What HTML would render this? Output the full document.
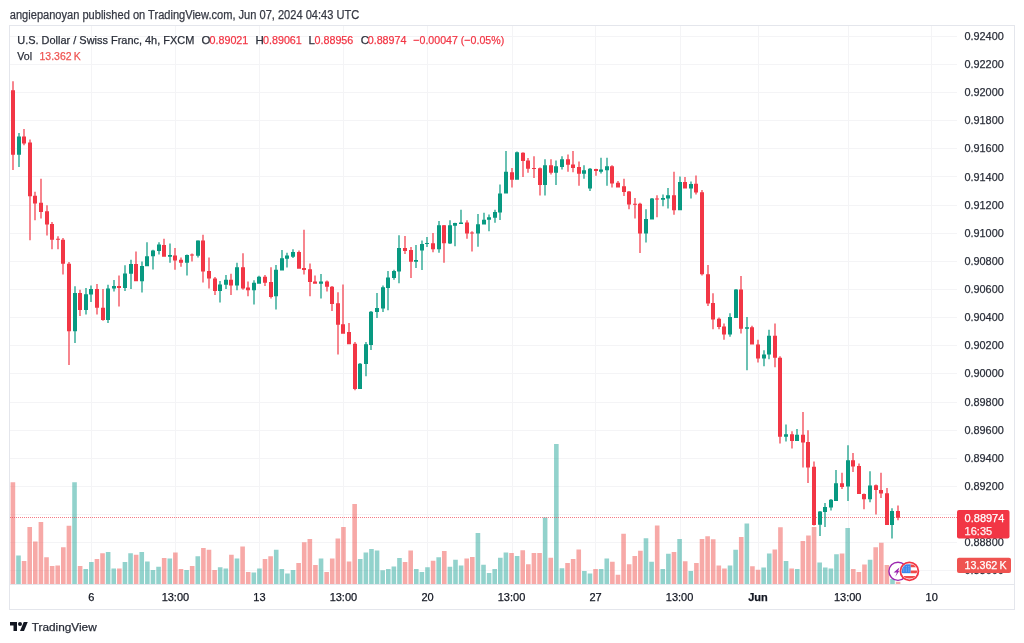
<!DOCTYPE html><html><head><meta charset="utf-8"><style>html,body{margin:0;padding:0;background:#fff;width:1024px;height:643px;overflow:hidden}svg{display:block;will-change:transform}text{font-family:"Liberation Sans",sans-serif}</style></head><body>
<svg width="1024" height="643" viewBox="0 0 1024 643">
<rect width="1024" height="643" fill="#fff"/>
<text x="9.8" y="18.9" font-size="12" fill="#363944" stroke="#363944" stroke-width="0.25" textLength="349.4" lengthAdjust="spacingAndGlyphs">angiepanoyan published on TradingView.com, Jun 07, 2024 04:43 UTC</text>
<path d="M10 36.5H957M10 64.5H957M10 92.5H957M10 120.5H957M10 148.5H957M10 176.5H957M10 205.5H957M10 233.5H957M10 261.5H957M10 289.5H957M10 317.5H957M10 345.5H957M10 373.5H957M10 402.5H957M10 430.5H957M10 458.5H957M10 486.5H957M10 514.5H957M10 542.5H957M10 570.5H957M91.5 26V584M175.5 26V584M259.5 26V584M343.5 26V584M427.5 26V584M512.5 26V584M595.5 26V584M680.5 26V584M758.5 26V584M848.5 26V584M931.5 26V584" stroke="#F4F4F6" stroke-width="1" fill="none"/>
<rect x="9.5" y="25.5" width="1005" height="584" fill="none" stroke="#E4E6EC" stroke-width="1"/>
<path d="M10 584.5H1014" stroke="#E4E6EC" stroke-width="1"/>
<path d="M10.60 482.2h4.6V584h-4.6zM21.80 560.9h4.6V584h-4.6zM27.41 527.0h4.6V584h-4.6zM33.01 541.5h4.6V584h-4.6zM38.61 522.0h4.6V584h-4.6zM44.22 557.2h4.6V584h-4.6zM49.82 566.1h4.6V584h-4.6zM55.42 565.4h4.6V584h-4.6zM61.02 547.3h4.6V584h-4.6zM66.62 525.8h4.6V584h-4.6zM77.83 566.1h4.6V584h-4.6zM94.64 559.1h4.6V584h-4.6zM100.24 553.2h4.6V584h-4.6zM117.05 568.4h4.6V584h-4.6zM133.85 554.8h4.6V584h-4.6zM161.87 557.9h4.6V584h-4.6zM173.07 552.5h4.6V584h-4.6zM178.67 568.9h4.6V584h-4.6zM189.88 566.1h4.6V584h-4.6zM201.09 548.0h4.6V584h-4.6zM206.69 549.7h4.6V584h-4.6zM212.29 570.1h4.6V584h-4.6zM229.10 554.8h4.6V584h-4.6zM240.30 546.6h4.6V584h-4.6zM245.91 572.0h4.6V584h-4.6zM262.71 559.0h4.6V584h-4.6zM268.31 556.2h4.6V584h-4.6zM296.33 563.0h4.6V584h-4.6zM301.93 542.2h4.6V584h-4.6zM307.53 539.1h4.6V584h-4.6zM313.13 564.9h4.6V584h-4.6zM324.34 572.0h4.6V584h-4.6zM329.94 558.6h4.6V584h-4.6zM335.54 538.4h4.6V584h-4.6zM341.15 527.0h4.6V584h-4.6zM346.75 561.4h4.6V584h-4.6zM352.35 504.0h4.6V584h-4.6zM402.77 562.1h4.6V584h-4.6zM408.38 550.4h4.6V584h-4.6zM430.79 560.7h4.6V584h-4.6zM441.99 550.9h4.6V584h-4.6zM464.40 558.6h4.6V584h-4.6zM470.00 557.0h4.6V584h-4.6zM509.22 553.0h4.6V584h-4.6zM520.43 550.2h4.6V584h-4.6zM526.03 564.3h4.6V584h-4.6zM531.63 553.0h4.6V584h-4.6zM537.24 553.0h4.6V584h-4.6zM548.44 557.7h4.6V584h-4.6zM565.25 563.1h4.6V584h-4.6zM570.85 558.9h4.6V584h-4.6zM576.45 549.5h4.6V584h-4.6zM593.26 569.0h4.6V584h-4.6zM610.07 561.7h4.6V584h-4.6zM615.67 574.8h4.6V584h-4.6zM621.27 533.8h4.6V584h-4.6zM626.88 564.3h4.6V584h-4.6zM632.48 556.1h4.6V584h-4.6zM638.08 550.7h4.6V584h-4.6zM654.89 525.6h4.6V584h-4.6zM671.70 551.9h4.6V584h-4.6zM682.90 561.2h4.6V584h-4.6zM694.11 563.1h4.6V584h-4.6zM699.71 539.1h4.6V584h-4.6zM705.31 536.2h4.6V584h-4.6zM710.91 539.3h4.6V584h-4.6zM716.51 565.5h4.6V584h-4.6zM722.12 568.4h4.6V584h-4.6zM738.93 537.0h4.6V584h-4.6zM750.13 566.2h4.6V584h-4.6zM755.73 569.8h4.6V584h-4.6zM772.54 549.6h4.6V584h-4.6zM778.14 527.3h4.6V584h-4.6zM789.35 568.4h4.6V584h-4.6zM800.55 540.9h4.6V584h-4.6zM806.15 535.5h4.6V584h-4.6zM811.76 526.9h4.6V584h-4.6zM839.77 553.4h4.6V584h-4.6zM850.98 569.1h4.6V584h-4.6zM856.58 571.9h4.6V584h-4.6zM862.18 564.4h4.6V584h-4.6zM873.38 547.3h4.6V584h-4.6zM878.99 542.8h4.6V584h-4.6zM884.59 565.1h4.6V584h-4.6zM895.80 581.7h4.6V584h-4.6z" fill="rgba(239,83,80,0.5)"/>
<path d="M16.20 555.5h4.6V584h-4.6zM72.23 482.2h4.6V584h-4.6zM83.43 569.1h4.6V584h-4.6zM89.04 562.1h4.6V584h-4.6zM105.84 552.0h4.6V584h-4.6zM111.45 568.4h4.6V584h-4.6zM122.65 562.1h4.6V584h-4.6zM128.25 553.2h4.6V584h-4.6zM139.46 552.0h4.6V584h-4.6zM145.06 561.4h4.6V584h-4.6zM150.66 570.1h4.6V584h-4.6zM156.26 566.8h4.6V584h-4.6zM167.47 558.6h4.6V584h-4.6zM184.28 570.1h4.6V584h-4.6zM195.48 556.2h4.6V584h-4.6zM217.89 567.3h4.6V584h-4.6zM223.50 568.4h4.6V584h-4.6zM234.70 558.6h4.6V584h-4.6zM251.51 572.6h4.6V584h-4.6zM257.11 568.4h4.6V584h-4.6zM273.92 549.7h4.6V584h-4.6zM279.52 568.9h4.6V584h-4.6zM285.12 573.6h4.6V584h-4.6zM290.72 570.1h4.6V584h-4.6zM318.74 558.6h4.6V584h-4.6zM357.95 559.1h4.6V584h-4.6zM363.56 552.5h4.6V584h-4.6zM369.16 549.0h4.6V584h-4.6zM374.76 550.4h4.6V584h-4.6zM380.36 570.3h4.6V584h-4.6zM385.97 568.9h4.6V584h-4.6zM391.57 566.6h4.6V584h-4.6zM397.17 557.9h4.6V584h-4.6zM413.98 568.9h4.6V584h-4.6zM419.58 572.0h4.6V584h-4.6zM425.18 567.3h4.6V584h-4.6zM436.39 557.2h4.6V584h-4.6zM447.59 566.8h4.6V584h-4.6zM453.20 559.8h4.6V584h-4.6zM458.80 565.6h4.6V584h-4.6zM475.61 533.1h4.6V584h-4.6zM481.21 564.8h4.6V584h-4.6zM486.81 573.0h4.6V584h-4.6zM492.41 569.0h4.6V584h-4.6zM498.02 557.7h4.6V584h-4.6zM503.62 552.6h4.6V584h-4.6zM514.83 555.9h4.6V584h-4.6zM542.84 517.4h4.6V584h-4.6zM554.04 444.1h4.6V584h-4.6zM559.64 568.3h4.6V584h-4.6zM582.06 571.1h4.6V584h-4.6zM587.66 573.4h4.6V584h-4.6zM598.86 569.0h4.6V584h-4.6zM604.47 558.4h4.6V584h-4.6zM643.68 538.3h4.6V584h-4.6zM649.29 561.7h4.6V584h-4.6zM660.49 569.0h4.6V584h-4.6zM666.09 553.7h4.6V584h-4.6zM677.30 539.0h4.6V584h-4.6zM688.50 571.1h4.6V584h-4.6zM727.72 565.5h4.6V584h-4.6zM733.32 549.8h4.6V584h-4.6zM744.53 523.4h4.6V584h-4.6zM761.34 567.4h4.6V584h-4.6zM766.94 553.4h4.6V584h-4.6zM783.75 560.9h4.6V584h-4.6zM794.95 569.1h4.6V584h-4.6zM817.36 562.5h4.6V584h-4.6zM822.96 567.4h4.6V584h-4.6zM828.57 568.4h4.6V584h-4.6zM834.17 554.3h4.6V584h-4.6zM845.37 528.0h4.6V584h-4.6zM867.78 559.7h4.6V584h-4.6zM890.19 579.0h4.6V584h-4.6z" fill="rgba(38,166,154,0.5)"/>
<path d="M10 517.5H957" stroke="#F23645" stroke-width="1" stroke-dasharray="1 1" opacity="0.65"/>
<path d="M12.4 81.3h1.2V170.0h-1.2zM11 90.2h4v64.5h-4zM23.4 128.9h1.2V145.3h-1.2zM22 136.6h4v6.8h-4zM29.4 139.4h1.2V240.3h-1.2zM28 142.5h4v53.7h-4zM34.4 191.7h1.2V220.3h-1.2zM33 195.7h4v7.7h-4zM40.4 178.8h1.2V218.4h-1.2zM39 202.7h4v9.4h-4zM46.4 205.2h1.2V235.6h-1.2zM45 211.2h4v13.4h-4zM51.4 222.0h1.2V249.2h-1.2zM50 223.9h4v15.9h-4zM57.4 236.3h1.2V249.2h-1.2zM56 238.7h4v1.1h-4zM62.4 238.0h1.2V274.5h-1.2zM61 239.8h4v23.9h-4zM68.4 262.1h1.2V365.0h-1.2zM67 263.7h4v67.5h-4zM79.4 289.8h1.2V316.0h-1.2zM78 293.0h4v17.1h-4zM96.4 283.9h1.2V314.4h-1.2zM95 289.0h4v18.8h-4zM102.4 289.0h1.2V320.7h-1.2zM101 307.8h4v12.2h-4zM118.4 275.5h1.2V306.6h-1.2zM117 286.0h4v1.9h-4zM135.4 251.6h1.2V281.3h-1.2zM134 264.0h4v17.3h-4zM163.4 238.7h1.2V256.7h-1.2zM162 245.0h4v11.7h-4zM174.4 248.0h1.2V269.8h-1.2zM173 255.5h4v5.0h-4zM180.4 257.4h1.2V266.8h-1.2zM179 259.8h4v3.0h-4zM191.4 253.4h1.2V261.4h-1.2zM190 254.4h4v1.0h-4zM202.4 234.7h1.2V282.5h-1.2zM201 240.5h4v31.0h-4zM208.4 257.4h1.2V288.6h-1.2zM207 271.0h4v7.5h-4zM214.4 276.9h1.2V294.9h-1.2zM213 278.5h4v12.4h-4zM230.4 273.8h1.2V294.9h-1.2zM229 279.7h4v5.8h-4zM242.4 253.3h1.2V289.8h-1.2zM241 267.3h4v21.1h-4zM247.4 281.4h1.2V296.2h-1.2zM246 287.5h4v2.8h-4zM264.4 275.1h1.2V286.1h-1.2zM263 276.7h4v6.1h-4zM270.4 267.3h1.2V298.5h-1.2zM269 282.1h4v14.8h-4zM298.4 250.5h1.2V268.7h-1.2zM297 252.1h4v16.6h-4zM303.4 229.8h1.2V274.4h-1.2zM302 268.0h4v1.9h-4zM309.4 263.4h1.2V296.2h-1.2zM308 269.2h4v12.9h-4zM314.4 275.5h1.2V283.7h-1.2zM313 281.4h4v2.3h-4zM326.4 280.5h1.2V291.5h-1.2zM325 281.4h4v5.4h-4zM331.4 286.1h1.2V310.9h-1.2zM330 286.8h4v17.1h-4zM337.4 292.2h1.2V354.6h-1.2zM336 303.2h4v21.6h-4zM342.4 284.4h1.2V333.7h-1.2zM341 324.3h4v9.4h-4zM348.4 323.1h1.2V344.2h-1.2zM347 332.0h4v12.2h-4zM354.4 342.0h1.2V390.2h-1.2zM353 343.8h4v45.1h-4zM404.4 235.9h1.2V254.0h-1.2zM403 248.1h4v2.8h-4zM410.4 247.0h1.2V278.1h-1.2zM409 250.0h4v11.7h-4zM432.4 233.0h1.2V252.3h-1.2zM431 243.3h4v5.9h-4zM443.4 224.9h1.2V262.7h-1.2zM442 225.3h4v17.9h-4zM466.4 220.2h1.2V238.8h-1.2zM465 222.6h4v10.8h-4zM471.4 231.3h1.2V251.5h-1.2zM470 232.6h4v1.0h-4zM511.4 168.0h1.2V187.4h-1.2zM510 172.2h4v7.5h-4zM522.4 152.3h1.2V176.9h-1.2zM521 152.7h4v8.2h-4zM527.4 158.1h1.2V172.7h-1.2zM526 160.5h4v8.2h-4zM533.4 156.2h1.2V178.0h-1.2zM532 168.0h4v1.0h-4zM539.4 167.5h1.2V195.6h-1.2zM538 168.2h4v16.9h-4zM550.4 159.3h1.2V174.5h-1.2zM549 165.2h4v7.5h-4zM567.4 154.6h1.2V171.7h-1.2zM566 159.3h4v5.4h-4zM572.4 151.1h1.2V172.2h-1.2zM571 164.5h4v3.5h-4zM578.4 161.6h1.2V185.8h-1.2zM577 167.0h4v6.8h-4zM595.4 168.7h1.2V175.7h-1.2zM594 169.1h4v1.9h-4zM611.4 165.2h1.2V187.4h-1.2zM610 166.3h4v17.1h-4zM617.4 181.1h1.2V187.4h-1.2zM616 182.7h4v4.7h-4zM623.4 178.7h1.2V196.1h-1.2zM622 186.2h4v5.9h-4zM628.4 190.9h1.2V209.2h-1.2zM627 191.4h4v13.1h-4zM634.4 198.0h1.2V218.6h-1.2zM633 203.8h4v1.0h-4zM639.4 202.7h1.2V253.0h-1.2zM638 203.8h4v29.8h-4zM656.4 195.2h1.2V217.2h-1.2zM655 198.4h4v1.2h-4zM673.4 171.7h1.2V214.8h-1.2zM672 195.2h4v15.0h-4zM684.4 176.9h1.2V188.6h-1.2zM683 182.0h4v6.6h-4zM695.4 175.5h1.2V194.5h-1.2zM694 183.8h4v8.7h-4zM701.4 189.9h1.2V275.5h-1.2zM700 192.3h4v82.0h-4zM707.4 264.9h1.2V305.9h-1.2zM706 274.3h4v29.3h-4zM712.4 293.3h1.2V329.2h-1.2zM711 303.1h4v16.3h-4zM718.4 317.5h1.2V329.2h-1.2zM717 318.7h4v8.2h-4zM723.4 323.4h1.2V339.8h-1.2zM722 326.4h4v8.0h-4zM740.4 275.9h1.2V333.4h-1.2zM739 289.4h4v39.3h-4zM751.4 325.7h1.2V344.4h-1.2zM750 327.3h4v17.1h-4zM757.4 339.8h1.2V362.5h-1.2zM756 344.4h4v14.1h-4zM774.4 323.4h1.2V367.2h-1.2zM773 335.8h4v22.0h-4zM779.4 356.2h1.2V443.4h-1.2zM778 357.8h4v78.9h-4zM791.4 431.3h1.2V448.4h-1.2zM790 434.2h4v6.8h-4zM802.4 412.1h1.2V467.4h-1.2zM801 434.8h4v7.8h-4zM807.4 430.3h1.2V483.0h-1.2zM806 442.0h4v25.4h-4zM813.4 461.5h1.2V525.5h-1.2zM812 466.8h4v58.2h-4zM841.4 472.7h1.2V488.9h-1.2zM840 483.2h4v3.7h-4zM852.4 453.1h1.2V471.9h-1.2zM851 460.2h4v6.2h-4zM858.4 463.5h1.2V494.1h-1.2zM857 466.0h4v28.1h-4zM863.4 493.4h1.2V509.2h-1.2zM862 494.0h4v5.3h-4zM875.4 484.4h1.2V514.4h-1.2zM874 485.2h4v4.9h-4zM880.4 472.7h1.2V497.9h-1.2zM879 490.1h4v3.3h-4zM886.4 488.0h1.2V525.0h-1.2zM885 493.2h4v31.8h-4zM897.4 505.6h1.2V520.3h-1.2zM896 510.9h4v6.8h-4z" fill="#F23645"/>
<path d="M18.4 132.9h1.2V167.0h-1.2zM17 136.6h4v18.1h-4zM74.4 286.2h1.2V343.0h-1.2zM73 293.0h4v38.2h-4zM85.4 287.9h1.2V314.4h-1.2zM84 294.2h4v15.9h-4zM90.4 285.5h1.2V302.0h-1.2zM89 289.0h4v5.4h-4zM107.4 284.8h1.2V323.0h-1.2zM106 288.4h4v31.6h-4zM113.4 280.1h1.2V291.4h-1.2zM112 286.0h4v2.6h-4zM124.4 265.2h1.2V291.0h-1.2zM123 273.4h4v14.5h-4zM130.4 259.8h1.2V289.0h-1.2zM129 264.0h4v9.8h-4zM141.4 261.4h1.2V292.6h-1.2zM140 266.1h4v15.2h-4zM146.4 242.2h1.2V266.3h-1.2zM145 256.2h4v10.1h-4zM152.4 249.7h1.2V269.6h-1.2zM151 250.4h4v5.8h-4zM158.4 242.2h1.2V254.4h-1.2zM157 244.5h4v6.6h-4zM169.4 243.4h1.2V262.8h-1.2zM168 255.1h4v1.6h-4zM186.4 254.4h1.2V275.5h-1.2zM185 255.1h4v7.7h-4zM197.4 240.3h1.2V257.4h-1.2zM196 240.5h4v15.3h-4zM219.4 280.9h1.2V302.4h-1.2zM218 284.4h4v6.5h-4zM225.4 275.0h1.2V289.0h-1.2zM224 279.7h4v5.1h-4zM236.4 262.8h1.2V290.2h-1.2zM235 267.3h4v18.2h-4zM253.4 280.2h1.2V304.4h-1.2zM252 282.8h4v7.5h-4zM258.4 275.8h1.2V283.7h-1.2zM257 276.7h4v7.0h-4zM275.4 265.0h1.2V309.5h-1.2zM274 269.7h4v26.5h-4zM281.4 250.0h1.2V270.4h-1.2zM280 258.2h4v12.2h-4zM286.4 252.8h1.2V267.6h-1.2zM285 255.6h4v3.1h-4zM292.4 249.3h1.2V258.0h-1.2zM291 252.1h4v4.7h-4zM320.4 273.9h1.2V298.5h-1.2zM319 281.4h4v2.3h-4zM359.4 363.0h1.2V388.9h-1.2zM358 363.7h4v25.2h-4zM365.4 342.0h1.2V376.2h-1.2zM364 344.3h4v19.7h-4zM370.4 310.9h1.2V350.0h-1.2zM369 311.7h4v33.4h-4zM376.4 293.1h1.2V318.0h-1.2zM375 307.9h4v4.2h-4zM382.4 285.6h1.2V311.9h-1.2zM381 287.3h4v21.3h-4zM387.4 271.1h1.2V310.2h-1.2zM386 277.4h4v10.6h-4zM393.4 269.7h1.2V279.8h-1.2zM392 270.9h4v7.2h-4zM398.4 235.2h1.2V283.3h-1.2zM397 248.1h4v23.5h-4zM415.4 245.0h1.2V268.0h-1.2zM414 260.0h4v1.7h-4zM421.4 240.5h1.2V269.9h-1.2zM420 244.0h4v6.6h-4zM426.4 236.9h1.2V246.9h-1.2zM425 243.0h4v1.0h-4zM438.4 221.1h1.2V252.7h-1.2zM437 225.3h4v23.9h-4zM449.4 220.2h1.2V243.9h-1.2zM448 225.3h4v18.3h-4zM454.4 222.8h1.2V246.3h-1.2zM453 223.0h4v2.8h-4zM460.4 209.8h1.2V224.0h-1.2zM459 222.6h4v1.4h-4zM477.4 214.0h1.2V246.8h-1.2zM476 224.2h4v9.2h-4zM483.4 212.7h1.2V224.4h-1.2zM482 219.7h4v4.7h-4zM488.4 214.4h1.2V231.3h-1.2zM487 217.2h4v2.6h-4zM494.4 209.8h1.2V222.7h-1.2zM493 212.0h4v5.8h-4zM499.4 184.4h1.2V220.0h-1.2zM498 193.4h4v19.1h-4zM505.4 151.1h1.2V193.6h-1.2zM504 171.7h4v21.9h-4zM516.4 151.6h1.2V179.7h-1.2zM515 152.3h4v27.4h-4zM544.4 159.3h1.2V195.6h-1.2zM543 165.2h4v19.9h-4zM555.4 160.5h1.2V185.1h-1.2zM554 166.3h4v6.4h-4zM561.4 156.2h1.2V169.4h-1.2zM560 159.3h4v7.7h-4zM583.4 165.2h1.2V178.7h-1.2zM582 170.3h4v3.5h-4zM589.4 168.0h1.2V190.9h-1.2zM588 168.7h4v19.9h-4zM600.4 157.7h1.2V173.4h-1.2zM599 169.4h4v2.3h-4zM606.4 157.7h1.2V185.8h-1.2zM605 166.3h4v4.0h-4zM645.4 209.2h1.2V242.5h-1.2zM644 219.1h4v14.5h-4zM651.4 198.0h1.2V219.5h-1.2zM650 198.4h4v21.1h-4zM662.4 194.4h1.2V206.2h-1.2zM661 198.0h4v1.8h-4zM667.4 188.1h1.2V208.5h-1.2zM666 195.2h4v3.2h-4zM679.4 176.4h1.2V210.2h-1.2zM678 182.0h4v28.2h-4zM690.4 181.6h1.2V198.4h-1.2zM689 183.9h4v4.7h-4zM729.4 313.3h1.2V336.7h-1.2zM728 317.0h4v17.4h-4zM735.4 288.9h1.2V318.0h-1.2zM734 289.4h4v28.6h-4zM746.4 317.0h1.2V370.2h-1.2zM745 327.3h4v1.4h-4zM763.4 350.3h1.2V366.2h-1.2zM762 354.5h4v4.0h-4zM768.4 329.7h1.2V359.2h-1.2zM767 335.8h4v18.7h-4zM785.4 424.4h1.2V441.4h-1.2zM784 434.2h4v2.5h-4zM796.4 428.9h1.2V441.0h-1.2zM795 434.8h4v6.2h-4zM819.4 510.9h1.2V535.9h-1.2zM818 511.4h4v13.3h-4zM824.4 503.1h1.2V527.0h-1.2zM823 507.0h4v4.9h-4zM830.4 498.9h1.2V510.6h-1.2zM829 499.7h4v7.8h-4zM835.4 469.9h1.2V501.0h-1.2zM834 483.2h4v17.8h-4zM847.4 445.3h1.2V501.0h-1.2zM846 460.2h4v26.4h-4zM869.4 471.3h1.2V502.2h-1.2zM868 485.4h4v13.9h-4zM891.4 508.3h1.2V538.4h-1.2zM890 510.9h4v14.1h-4z" fill="#089981"/>
<text x="964.4" y="39.9" font-size="11.5" fill="#2A2E39" stroke="#2A2E39" stroke-width="0.25" textLength="39.4" lengthAdjust="spacingAndGlyphs">0.92400</text>
<text x="964.4" y="68.0" font-size="11.5" fill="#2A2E39" stroke="#2A2E39" stroke-width="0.25" textLength="39.4" lengthAdjust="spacingAndGlyphs">0.92200</text>
<text x="964.4" y="96.2" font-size="11.5" fill="#2A2E39" stroke="#2A2E39" stroke-width="0.25" textLength="39.4" lengthAdjust="spacingAndGlyphs">0.92000</text>
<text x="964.4" y="124.3" font-size="11.5" fill="#2A2E39" stroke="#2A2E39" stroke-width="0.25" textLength="39.4" lengthAdjust="spacingAndGlyphs">0.91800</text>
<text x="964.4" y="152.4" font-size="11.5" fill="#2A2E39" stroke="#2A2E39" stroke-width="0.25" textLength="39.4" lengthAdjust="spacingAndGlyphs">0.91600</text>
<text x="964.4" y="180.5" font-size="11.5" fill="#2A2E39" stroke="#2A2E39" stroke-width="0.25" textLength="39.4" lengthAdjust="spacingAndGlyphs">0.91400</text>
<text x="964.4" y="208.7" font-size="11.5" fill="#2A2E39" stroke="#2A2E39" stroke-width="0.25" textLength="39.4" lengthAdjust="spacingAndGlyphs">0.91200</text>
<text x="964.4" y="236.8" font-size="11.5" fill="#2A2E39" stroke="#2A2E39" stroke-width="0.25" textLength="39.4" lengthAdjust="spacingAndGlyphs">0.91000</text>
<text x="964.4" y="264.9" font-size="11.5" fill="#2A2E39" stroke="#2A2E39" stroke-width="0.25" textLength="39.4" lengthAdjust="spacingAndGlyphs">0.90800</text>
<text x="964.4" y="293.0" font-size="11.5" fill="#2A2E39" stroke="#2A2E39" stroke-width="0.25" textLength="39.4" lengthAdjust="spacingAndGlyphs">0.90600</text>
<text x="964.4" y="321.1" font-size="11.5" fill="#2A2E39" stroke="#2A2E39" stroke-width="0.25" textLength="39.4" lengthAdjust="spacingAndGlyphs">0.90400</text>
<text x="964.4" y="349.3" font-size="11.5" fill="#2A2E39" stroke="#2A2E39" stroke-width="0.25" textLength="39.4" lengthAdjust="spacingAndGlyphs">0.90200</text>
<text x="964.4" y="377.4" font-size="11.5" fill="#2A2E39" stroke="#2A2E39" stroke-width="0.25" textLength="39.4" lengthAdjust="spacingAndGlyphs">0.90000</text>
<text x="964.4" y="405.5" font-size="11.5" fill="#2A2E39" stroke="#2A2E39" stroke-width="0.25" textLength="39.4" lengthAdjust="spacingAndGlyphs">0.89800</text>
<text x="964.4" y="433.6" font-size="11.5" fill="#2A2E39" stroke="#2A2E39" stroke-width="0.25" textLength="39.4" lengthAdjust="spacingAndGlyphs">0.89600</text>
<text x="964.4" y="461.8" font-size="11.5" fill="#2A2E39" stroke="#2A2E39" stroke-width="0.25" textLength="39.4" lengthAdjust="spacingAndGlyphs">0.89400</text>
<text x="964.4" y="489.9" font-size="11.5" fill="#2A2E39" stroke="#2A2E39" stroke-width="0.25" textLength="39.4" lengthAdjust="spacingAndGlyphs">0.89200</text>
<text x="964.4" y="518.0" font-size="11.5" fill="#2A2E39" stroke="#2A2E39" stroke-width="0.25" textLength="39.4" lengthAdjust="spacingAndGlyphs">0.89000</text>
<text x="964.4" y="546.1" font-size="11.5" fill="#2A2E39" stroke="#2A2E39" stroke-width="0.25" textLength="39.4" lengthAdjust="spacingAndGlyphs">0.88800</text>
<text x="964.4" y="574.3" font-size="11.5" fill="#2A2E39" stroke="#2A2E39" stroke-width="0.25" textLength="39.4" lengthAdjust="spacingAndGlyphs">0.88600</text>
<rect x="957" y="510" width="52.5" height="28.5" rx="2" fill="#F23645"/>
<text x="964.6" y="521.9" font-size="11" fill="#fff" stroke="#fff" stroke-width="0.25">0.88974</text>
<text x="964.6" y="535" font-size="11" fill="#fff" stroke="#fff" stroke-width="0.25" fill-opacity="0.9">16:35</text>
<rect x="957" y="557.7" width="54" height="15.4" rx="2" fill="#EF5350"/>
<text x="964.6" y="569.3" font-size="11" fill="#fff" stroke="#fff" stroke-width="0.25" textLength="42" lengthAdjust="spacingAndGlyphs">13.362 K</text>
<text x="91.3" y="600.8" font-size="11" fill="#131722" stroke="#131722" stroke-width="0.25" text-anchor="middle">6</text>
<text x="175.4" y="600.8" font-size="11" fill="#131722" stroke="#131722" stroke-width="0.25" text-anchor="middle">13:00</text>
<text x="259.4" y="600.8" font-size="11" fill="#131722" stroke="#131722" stroke-width="0.25" text-anchor="middle">13</text>
<text x="343.4" y="600.8" font-size="11" fill="#131722" stroke="#131722" stroke-width="0.25" text-anchor="middle">13:00</text>
<text x="427.5" y="600.8" font-size="11" fill="#131722" stroke="#131722" stroke-width="0.25" text-anchor="middle">20</text>
<text x="511.5" y="600.8" font-size="11" fill="#131722" stroke="#131722" stroke-width="0.25" text-anchor="middle">13:00</text>
<text x="595.6" y="600.8" font-size="11" fill="#131722" stroke="#131722" stroke-width="0.25" text-anchor="middle">27</text>
<text x="679.6" y="600.8" font-size="11" fill="#131722" stroke="#131722" stroke-width="0.25" text-anchor="middle">13:00</text>
<text x="758.0" y="600.8" font-size="11" fill="#131722" stroke="#131722" stroke-width="0.25" text-anchor="middle" font-weight="bold">Jun</text>
<text x="847.7" y="600.8" font-size="11" fill="#131722" stroke="#131722" stroke-width="0.25" text-anchor="middle">13:00</text>
<text x="931.7" y="600.8" font-size="11" fill="#131722" stroke="#131722" stroke-width="0.25" text-anchor="middle">10</text>
<text x="17.3" y="43.9" font-size="11.5" fill="#2A2E39" stroke="#2A2E39" stroke-width="0.25" textLength="177" lengthAdjust="spacingAndGlyphs">U.S. Dollar / Swiss Franc, 4h, FXCM</text>
<text x="201.6" y="43.9" font-size="11.5" fill="#2A2E39" stroke="#2A2E39" stroke-width="0.25">O</text>
<text x="209.5" y="43.9" font-size="11.5" fill="#F23645" stroke="#F23645" stroke-width="0.25" textLength="38.8" lengthAdjust="spacingAndGlyphs">0.89021</text>
<text x="255.4" y="43.9" font-size="11.5" fill="#2A2E39" stroke="#2A2E39" stroke-width="0.25">H</text>
<text x="263.0" y="43.9" font-size="11.5" fill="#F23645" stroke="#F23645" stroke-width="0.25" textLength="38.8" lengthAdjust="spacingAndGlyphs">0.89061</text>
<text x="308.6" y="43.9" font-size="11.5" fill="#2A2E39" stroke="#2A2E39" stroke-width="0.25">L</text>
<text x="314.5" y="43.9" font-size="11.5" fill="#F23645" stroke="#F23645" stroke-width="0.25" textLength="38.8" lengthAdjust="spacingAndGlyphs">0.88956</text>
<text x="360.8" y="43.9" font-size="11.5" fill="#2A2E39" stroke="#2A2E39" stroke-width="0.25">C</text>
<text x="367.7" y="43.9" font-size="11.5" fill="#F23645" stroke="#F23645" stroke-width="0.25" textLength="38.8" lengthAdjust="spacingAndGlyphs">0.88974</text>
<text x="413.3" y="43.9" font-size="11.5" fill="#F23645" stroke="#F23645" stroke-width="0.25" textLength="90.9" lengthAdjust="spacingAndGlyphs">−0.00047 (−0.05%)</text>
<text x="17.3" y="59.5" font-size="11.5" fill="#2A2E39" stroke="#2A2E39" stroke-width="0.25" textLength="14.7" lengthAdjust="spacingAndGlyphs">Vol</text>
<text x="39.5" y="59.5" font-size="11.5" fill="#EF5350" stroke="#EF5350" stroke-width="0.25" textLength="41.2" lengthAdjust="spacingAndGlyphs">13.362 K</text>
<defs><clipPath id="fc"><circle cx="909.4" cy="571.3" r="7.7"/></clipPath></defs>
<circle cx="898" cy="571.3" r="9.1" fill="#fff" stroke="#9C27B0" stroke-width="1.4"/>
<path d="M893.6 572.4L899.4 567.4L898.2 570.9L899.3 571L895.3 576.7L896.9 572.5Z" fill="#9C27B0"/>
<circle cx="909.4" cy="571.3" r="9" fill="#fff" stroke="#F23645" stroke-width="1.8"/>
<g clip-path="url(#fc)"><rect x="901" y="564.3" width="9.7" height="8.9" fill="#3A86EA"/><path d="M910.7 564.6h7v2.6h-7zM910.7 570.4h7v2.8h-7zM900 575.9h19v2.6h-19z" fill="#EF4A4A"/><path d="M903.3 566.2h1v1h-1zM905.8 566.2h1v1h-1zM908.3 566.2h1v1h-1zM903.3 568.4h1v1h-1zM905.8 568.4h1v1h-1zM908.3 568.4h1v1h-1zM903.3 570.6h1v1h-1zM905.8 570.6h1v1h-1zM908.3 570.6h1v1h-1z" fill="#9CC3F5"/></g>
<g transform="translate(10 620) scale(0.5)" fill="#131722"><path d="M14 22H7V11H0V4h14v18zM28 22h-8l7.5-18h8L28 22z"/><circle cx="20" cy="8" r="4"/></g>
<text x="31.7" y="630.8" font-size="11.6" fill="#2A2E39" stroke="#2A2E39" stroke-width="0.25" textLength="65" lengthAdjust="spacingAndGlyphs">TradingView</text>
</svg></body></html>
